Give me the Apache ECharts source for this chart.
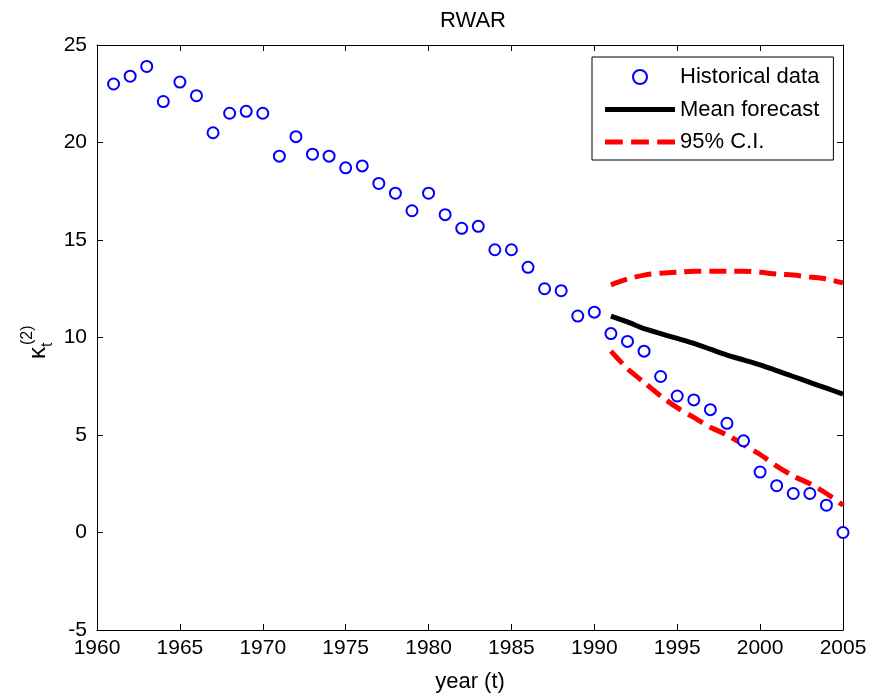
<!DOCTYPE html>
<html>
<head>
<meta charset="utf-8">
<script src="https://cdn.jsdelivr.net/npm/echarts@6/dist/echarts.min.js"></script>
<style>
  html, body { margin: 0; padding: 0; background: #fff; }
  #main { width: 880px; height: 693px; }
</style>
</head>
<body>
<div id="main"></div>
<script>
// historical kappa_t^(2), 1961-2005
const histYears = [1961, 1962, 1963, 1964, 1965, 1966, 1967, 1968, 1969, 1970,
    1971, 1972, 1973, 1974, 1975, 1976, 1977, 1978, 1979, 1980,
    1981, 1982, 1983, 1984, 1985, 1986, 1987, 1988, 1989, 1990,
    1991, 1992, 1993, 1994, 1995, 1996, 1997, 1998, 1999, 2000,
    2001, 2002, 2003, 2004, 2005]
const histValues = [23.0, 23.4, 23.9, 22.1, 23.1, 22.4, 20.5, 21.5, 21.6, 21.5,
    19.3, 20.3, 19.4, 19.3, 18.7, 18.8, 17.9, 17.4, 16.5, 17.4,
    16.3, 15.6, 15.7, 14.5, 14.5, 13.6, 12.5, 12.4, 11.1, 11.3,
    10.2, 9.8, 9.3, 8.0, 7.0, 6.8, 6.3, 5.6, 4.7, 3.1,
    2.4, 2.0, 2.0, 1.4, 0.0]

// forecast from 1991
const fcYears = [1991, 1992, 1993, 1994, 1995, 1996, 1997, 1998, 1999, 2000, 2001, 2002, 2003, 2004, 2005]
const meanForecast = [11.1, 10.8, 10.45, 10.2, 9.95, 9.7, 9.4, 9.1, 8.85, 8.6, 8.3, 8.0, 7.7, 7.4, 7.1]
const upperCI = [12.7, 13.0, 13.2, 13.3, 13.35, 13.4, 13.4, 13.4, 13.4, 13.35, 13.25, 13.2, 13.1, 13.0, 12.8]
const lowerCI = [9.3, 8.4, 7.7, 7.0, 6.4, 5.9, 5.4, 5.0, 4.5, 4.0, 3.4, 2.9, 2.5, 2.0, 1.4]

const xTicks = { min: 1960, max: 2005, step: 5 }
const yTicks = { min: -5, max: 25, step: 5 }

function pairs(xs, ys) {
    let res = []
    for (let i = 0; i < xs.length; i++) {
        res.push([xs[i], ys[i]])
    }
    return res
}

const font = 'Liberation Sans, Arial, sans-serif'

// legend samples: solid bar and three dashes (keepAspect keeps them thin)
const solidIcon = 'path://M0,0h70v5h-70z'
const dashIcon = 'path://M0,0h17v5h-17z M25,0h17v5h-17z M50,0h17v5h-17z'

const myChart = echarts.init(document.getElementById('main'), null, { renderer: 'canvas' })

function axisBase(extra) {
    return Object.assign({
        type: 'value',
        axisLine: { show: true, onZero: false, lineStyle: { color: '#000', width: 1 } },
        axisTick: { show: true, inside: true, length: 6, lineStyle: { color: '#000' } },
        splitLine: { show: false }
    }, extra)
}

myChart.setOption({
    animation: false,
    backgroundColor: '#fff',
    title: {
        text: 'RWAR',
        left: 468,
        top: 5,
        textAlign: 'center',
        textStyle: { fontFamily: font, fontSize: 22, fontWeight: 'normal', color: '#000' }
    },
    grid: { left: 97, right: 37, top: 45, bottom: 63, containLabel: false, outerBoundsMode: 'none' },
    legend: {
        orient: 'vertical',
        left: 592,
        top: 57,
        padding: [9, 14, 7, 13],
        itemGap: 10.5,
        itemWidth: 70,
        itemHeight: 14,
        symbolKeepAspect: true,
        backgroundColor: '#fff',
        borderColor: '#000',
        borderWidth: 1,
        borderRadius: 0,
        textStyle: { fontFamily: font, fontSize: 22, color: '#000' },
        data: [
            { name: 'Historical data' },
            { name: 'Mean forecast', icon: solidIcon },
            { name: '95% C.I.', icon: dashIcon }
        ]
    },
    xAxis: [
        axisBase({
            min: xTicks.min, max: xTicks.max, interval: xTicks.step,
            position: 'bottom',
            name: 'year (t)',
            nameLocation: 'middle',
            nameGap: 41,
            nameTextStyle: { fontFamily: font, fontSize: 22, color: '#000' },
            axisLabel: {
                fontFamily: font, fontSize: 21, color: '#000', margin: 8,
                showMinLabel: true, showMaxLabel: true,
                formatter: function (v) { return String(v) }
            }
        }),
        axisBase({
            min: xTicks.min, max: xTicks.max, interval: xTicks.step,
            position: 'top',
            axisLabel: { show: false }
        })
    ],
    yAxis: [
        axisBase({
            min: yTicks.min, max: yTicks.max, interval: yTicks.step,
            position: 'left',
            axisLabel: { fontFamily: font, fontSize: 21, color: '#000', margin: 10 }
        }),
        axisBase({
            min: yTicks.min, max: yTicks.max, interval: yTicks.step,
            position: 'right',
            axisLabel: { show: false }
        })
    ],
    graphic: [
        {
            // y axis label: kappa_t^(2), rotated
            type: 'group',
            x: 45,
            y: 359,
            rotation: Math.PI / 2,
            children: [
                { type: 'text', x: 0, y: 5, style: { text: 'κ', font: '24px ' + font, fill: '#000', align: 'left', verticalAlign: 'bottom' } },
                { type: 'text', x: 12, y: 11, style: { text: 't', font: '16px ' + font, fill: '#000', align: 'left', verticalAlign: 'bottom' } },
                { type: 'text', x: 14, y: -9, style: { text: '(2)', font: '16px ' + font, fill: '#000', align: 'left', verticalAlign: 'bottom' } }
            ]
        }
    ],
    series: [
        {
            name: 'Historical data',
            type: 'scatter',
            symbol: 'emptyCircle',
            symbolSize: 11,
            itemStyle: { color: '#0000ff', borderWidth: 3, opacity: 1 },
            z: 5,
            data: pairs(histYears, histValues)
        },
        {
            name: 'Mean forecast',
            type: 'line',
            symbol: 'none',
            smooth: 0.2,
            lineStyle: { color: '#000', width: 5 },
            itemStyle: { color: '#000' },
            data: pairs(fcYears, meanForecast)
        },
        {
            name: '95% C.I.',
            type: 'line',
            symbol: 'none',
            smooth: 0.3,
            lineStyle: { color: '#ff0000', width: 5, type: [17, 8] },
            itemStyle: { color: '#ff0000' },
            data: pairs(fcYears, upperCI)
        },
        {
            name: '95% C.I.',
            type: 'line',
            symbol: 'none',
            smooth: 0.3,
            lineStyle: { color: '#ff0000', width: 5, type: [17, 8] },
            itemStyle: { color: '#ff0000' },
            data: pairs(fcYears, lowerCI)
        }
    ]
})
</script>
</body>
</html>
